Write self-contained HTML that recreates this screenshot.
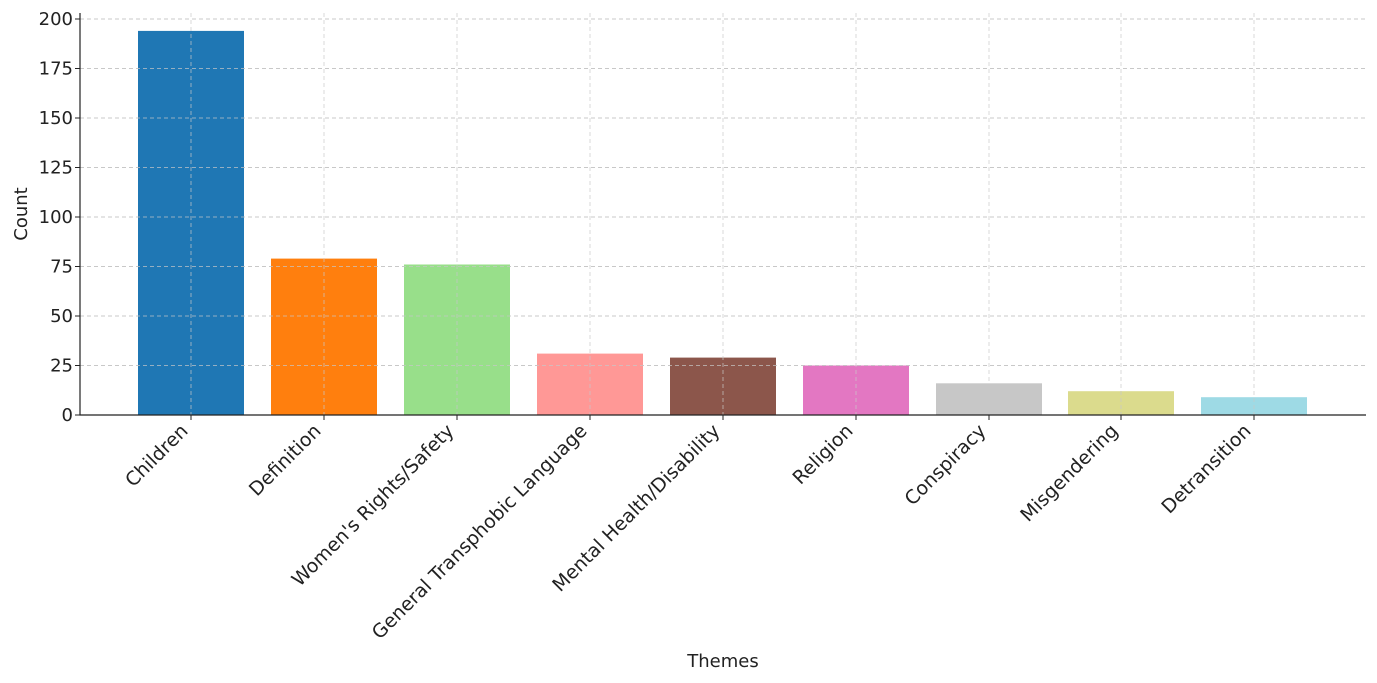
<!DOCTYPE html>
<html><head><meta charset="utf-8"><style>body{margin:0;background:#fff}svg{display:block}text{font-family:"DejaVu Sans","Liberation Sans",sans-serif;fill:#222}</style></head>
<body>
<svg width="1377" height="683" viewBox="0 0 1377 683" xmlns="http://www.w3.org/2000/svg">
<g stroke="#c8c8c8" stroke-width="1" stroke-dasharray="4,3">
<line x1="80" x2="1366" y1="19" y2="19"/><line x1="80" x2="1366" y1="68.5" y2="68.5"/><line x1="80" x2="1366" y1="118" y2="118"/><line x1="80" x2="1366" y1="167.5" y2="167.5"/><line x1="80" x2="1366" y1="217" y2="217"/><line x1="80" x2="1366" y1="266.5" y2="266.5"/><line x1="80" x2="1366" y1="316" y2="316"/><line x1="80" x2="1366" y1="365.5" y2="365.5"/>
</g>
<g>
<rect x="138" y="30.9" width="106" height="384.1" fill="#1f77b4"/>
<rect x="271" y="258.6" width="106" height="156.4" fill="#ff7f0e"/>
<rect x="404" y="264.5" width="106" height="150.5" fill="#98df8a"/>
<rect x="537" y="353.6" width="106" height="61.4" fill="#ff9896"/>
<rect x="670" y="357.6" width="106" height="57.4" fill="#8c564b"/>
<rect x="803" y="365.5" width="106" height="49.5" fill="#e377c2"/>
<rect x="936" y="383.3" width="106" height="31.7" fill="#c7c7c7"/>
<rect x="1068" y="391.2" width="106" height="23.8" fill="#dbdb8d"/>
<rect x="1201" y="397.2" width="106" height="17.8" fill="#9edae5"/>
</g>
<g stroke="#c8c8c8" stroke-width="1" stroke-dasharray="4,3" opacity="0.7">
<line x1="80" x2="1366" y1="19" y2="19"/><line x1="80" x2="1366" y1="68.5" y2="68.5"/><line x1="80" x2="1366" y1="118" y2="118"/><line x1="80" x2="1366" y1="167.5" y2="167.5"/><line x1="80" x2="1366" y1="217" y2="217"/><line x1="80" x2="1366" y1="266.5" y2="266.5"/><line x1="80" x2="1366" y1="316" y2="316"/><line x1="80" x2="1366" y1="365.5" y2="365.5"/>
<line x1="191" x2="191" y1="13" y2="415"/><line x1="324" x2="324" y1="13" y2="415"/><line x1="457" x2="457" y1="13" y2="415"/><line x1="590" x2="590" y1="13" y2="415"/><line x1="723" x2="723" y1="13" y2="415"/><line x1="856" x2="856" y1="13" y2="415"/><line x1="989" x2="989" y1="13" y2="415"/><line x1="1121" x2="1121" y1="13" y2="415"/><line x1="1254" x2="1254" y1="13" y2="415"/>
</g>
<line x1="80" x2="80" y1="13" y2="415.5" stroke="#222" stroke-width="1.2"/>
<line x1="79.5" x2="1366" y1="415" y2="415" stroke="#222" stroke-width="1.2"/>
<g stroke="#222">
<line x1="75" x2="80" y1="19" y2="19"/><line x1="75" x2="80" y1="68.5" y2="68.5"/><line x1="75" x2="80" y1="118" y2="118"/><line x1="75" x2="80" y1="167.5" y2="167.5"/><line x1="75" x2="80" y1="217" y2="217"/><line x1="75" x2="80" y1="266.5" y2="266.5"/><line x1="75" x2="80" y1="316" y2="316"/><line x1="75" x2="80" y1="365.5" y2="365.5"/><line x1="75" x2="80" y1="415" y2="415"/>
<line x1="191" x2="191" y1="415" y2="420"/><line x1="324" x2="324" y1="415" y2="420"/><line x1="457" x2="457" y1="415" y2="420"/><line x1="590" x2="590" y1="415" y2="420"/><line x1="723" x2="723" y1="415" y2="420"/><line x1="856" x2="856" y1="415" y2="420"/><line x1="989" x2="989" y1="415" y2="420"/><line x1="1121" x2="1121" y1="415" y2="420"/><line x1="1254" x2="1254" y1="415" y2="420"/>
</g>
<g font-size="18" text-anchor="end">
<text x="73" y="25">200</text><text x="73" y="74.5">175</text><text x="73" y="124">150</text><text x="73" y="173.5">125</text><text x="73" y="223">100</text><text x="73" y="272.5">75</text><text x="73" y="322">50</text><text x="73" y="371.5">25</text><text x="73" y="421">0</text>
</g>
<g font-size="19" text-anchor="end">
<text transform="translate(189,432) rotate(-45)">Children</text>
<text transform="translate(322,432) rotate(-45)">Definition</text>
<text transform="translate(455,432) rotate(-45)">Women's Rights/Safety</text>
<text transform="translate(588,432) rotate(-45)">General Transphobic Language</text>
<text transform="translate(721,432) rotate(-45)">Mental Health/Disability</text>
<text transform="translate(854,432) rotate(-45)">Religion</text>
<text transform="translate(987,432) rotate(-45)">Conspiracy</text>
<text transform="translate(1119,432) rotate(-45)">Misgendering</text>
<text transform="translate(1252,432) rotate(-45)">Detransition</text>
</g>
<text x="723" y="667" font-size="18" text-anchor="middle">Themes</text>
<text transform="translate(27,214) rotate(-90)" font-size="18" text-anchor="middle">Count</text>
</svg>
</body></html>
